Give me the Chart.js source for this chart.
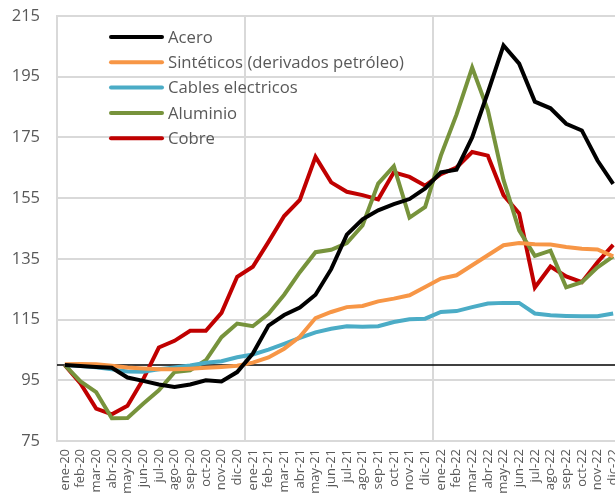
<!DOCTYPE html>
<html>
<head>
<meta charset="utf-8">
<title>Precios materias primas</title>
<script src="https://cdn.jsdelivr.net/npm/chart.js@4.4.1/dist/chart.umd.min.js"></script>
<style>
  html, body { margin: 0; padding: 0; overflow: hidden; background: #ffffff; }
  canvas { display: block; }
</style>
</head>
<body>
<canvas id="preciosChart" width="622" height="498"></canvas>
<script>
  // Data (index ene-20 = 100)
  const months = ['ene-20', 'feb-20', 'mar-20', 'abr-20', 'may-20', 'jun-20', 'jul-20', 'ago-20', 'sep-20', 'oct-20', 'nov-20', 'dic-20',
                  'ene-21', 'feb-21', 'mar-21', 'abr-21', 'may-21', 'jun-21', 'jul-21', 'ago-21', 'sep-21', 'oct-21', 'nov-21', 'dic-21',
                  'ene-22', 'feb-22', 'mar-22', 'abr-22', 'may-22', 'jun-22', 'jul-22', 'ago-22', 'sep-22', 'oct-22', 'nov-22', 'dic-22'];

  const acero = [100, 99.7, 99.4, 99.1, 95.9, 94.8, 93.6, 92.8, 93.6, 95, 94.6, 97.7,
                 103.8, 113, 116.5, 119, 123.2, 131.6, 143, 148, 151, 153, 154.7, 158.2,
                 163.5, 164.4, 175, 189.8, 205.3, 199.3, 186.8, 184.6, 179.5, 177.3, 167.4, 159.7];

  const sinteticos = [100.3, 100.4, 100.3, 99.8, 99.2, 98.9, 98.6, 98.6, 98.8, 99.1, 99.4, 99.8,
                      100.8, 102.5, 105.4, 109.3, 115.5, 117.5, 119.1, 119.5, 121, 121.9, 123, 125.7,
                      128.5, 129.6, 132.9, 136.2, 139.5, 140.2, 139.8, 139.7, 138.9, 138.3, 138.1, 135.8];

  const cables = [100, 99.7, 99.3, 98.6, 97.9, 97.8, 98.6, 99.2, 99.9, 100.8, 101.3, 102.6,
                  103.5, 105.1, 107, 109, 110.8, 112, 112.8, 112.6, 112.8, 114.2, 115.1, 115.3,
                  117.5, 117.8, 119.1, 120.3, 120.5, 120.5, 117, 116.4, 116.2, 116.1, 116.1, 117];

  const aluminio = [100, 94.6, 91.1, 82.5, 82.6, 87.3, 91.7, 97.7, 98.3, 101.6, 109.2, 113.7,
                    112.8, 116.9, 123.2, 130.6, 137.2, 138, 140.2, 146, 159.8, 165.5, 148.6, 152.1,
                    169, 182.5, 198, 184, 161, 144.4, 136, 137.7, 125.6, 127.3, 132.2, 135.8];

  const cobre = [100, 94, 85.7, 83.8, 86.6, 95.3, 105.8, 108, 111.3, 111.3, 117.2, 129.1,
                 132.4, 140.6, 149.1, 154.4, 168.6, 160.2, 157.1, 156, 154.6, 163.5, 162, 159.1,
                 162.9, 165.1, 170.2, 169, 156, 150, 125.6, 132.5, 129.2, 127.3, 133.9, 139.6];

  const yMin = 75;
  const yMax = 215;
  const yStep = 20;
  const baseLine = 100;
  const yearStarts = ['ene-21', 'ene-22'];

  const textColor = '#595959';
  const gridColor = '#d9d9d9';

  // Reference line at 100
  const baseLinePlugin = {
    id: 'baseLine',
    beforeDatasetsDraw(chart) {
      const { ctx, chartArea } = chart;
      const y = chart.scales.y.getPixelForValue(baseLine);
      ctx.save();
      ctx.strokeStyle = '#000000';
      ctx.lineWidth = 1.5;
      ctx.beginPath();
      ctx.moveTo(chartArea.left, y);
      ctx.lineTo(chartArea.right, y);
      ctx.stroke();
      ctx.restore();
    }
  };

  // Legend drawn inside the plot, top left
  const legendPlugin = {
    id: 'innerLegend',
    afterDatasetsDraw(chart) {
      const { ctx } = chart;
      ctx.save();
      ctx.font = '16.7px "Open Sans"';
      ctx.textBaseline = 'middle';
      ctx.textAlign = 'left';
      chart.data.datasets.forEach((ds, i) => {
        const y = 37 + i * 25.3;
        ctx.strokeStyle = ds.borderColor;
        ctx.lineWidth = 4;
        ctx.lineCap = 'round';
        ctx.beginPath();
        ctx.moveTo(111, y);
        ctx.lineTo(162, y);
        ctx.stroke();
        ctx.fillStyle = textColor;
        ctx.fillText(ds.label, 168, y + 1);
      });
      ctx.restore();
    }
  };

  function series(label, data, color) {
    return {
      label: label,
      data: data,
      borderColor: color,
      backgroundColor: color,
      borderWidth: 4,
      pointRadius: 0,
      tension: 0,
      fill: false
    };
  }

  const ctx = document.getElementById('preciosChart').getContext('2d');
  const preciosChart = new Chart(ctx, {
    type: 'line',
    data: {
      labels: months,
      datasets: [
        series('Acero', acero, '#000000'),
        series('Sintéticos (derivados petróleo)', sinteticos, '#f79646'),
        series('Cables electricos', cables, '#4bacc6'),
        series('Aluminio', aluminio, '#77933c'),
        series('Cobre', cobre, '#c00000')
      ]
    },
    options: {
      responsive: false,
      animation: false,
      layout: { padding: { top: 16, right: 1, left: 0, bottom: 0 } },
      plugins: {
        legend: { display: false },
        tooltip: { enabled: false }
      },
      scales: {
        x: {
          offset: true,
          grid: {
            offset: true,
            drawTicks: false,
            lineWidth: 2,
            color: (c) => (c.index !== undefined && yearStarts.includes(months[c.index])) ? gridColor : 'rgba(0,0,0,0)'
          },
          border: { color: gridColor, width: 2 },
          ticks: {
            autoSkip: false,
            maxRotation: 90,
            minRotation: 90,
            padding: 8,
            color: textColor,
            font: { family: 'Open Sans', size: 13 }
          },
          afterFit: (scale) => {
            scale.height = 57;
            scale.paddingLeft = 0;
            scale.paddingRight = 0;
            scale.paddingTop = 0;
            scale.paddingBottom = 0;
          }
        },
        y: {
          min: yMin,
          max: yMax,
          grid: { color: gridColor, lineWidth: 2, drawTicks: false },
          border: { color: gridColor, width: 2 },
          ticks: {
            stepSize: yStep,
            padding: 17,
            color: textColor,
            font: { family: 'Open Sans', size: 16.5 }
          },
          afterFit: (scale) => {
            scale.width = 57;
            scale.paddingTop = 0;
            scale.paddingBottom = 0;
          }
        }
      }
    },
    plugins: [baseLinePlugin, legendPlugin]
  });
</script>
</body>
</html>
